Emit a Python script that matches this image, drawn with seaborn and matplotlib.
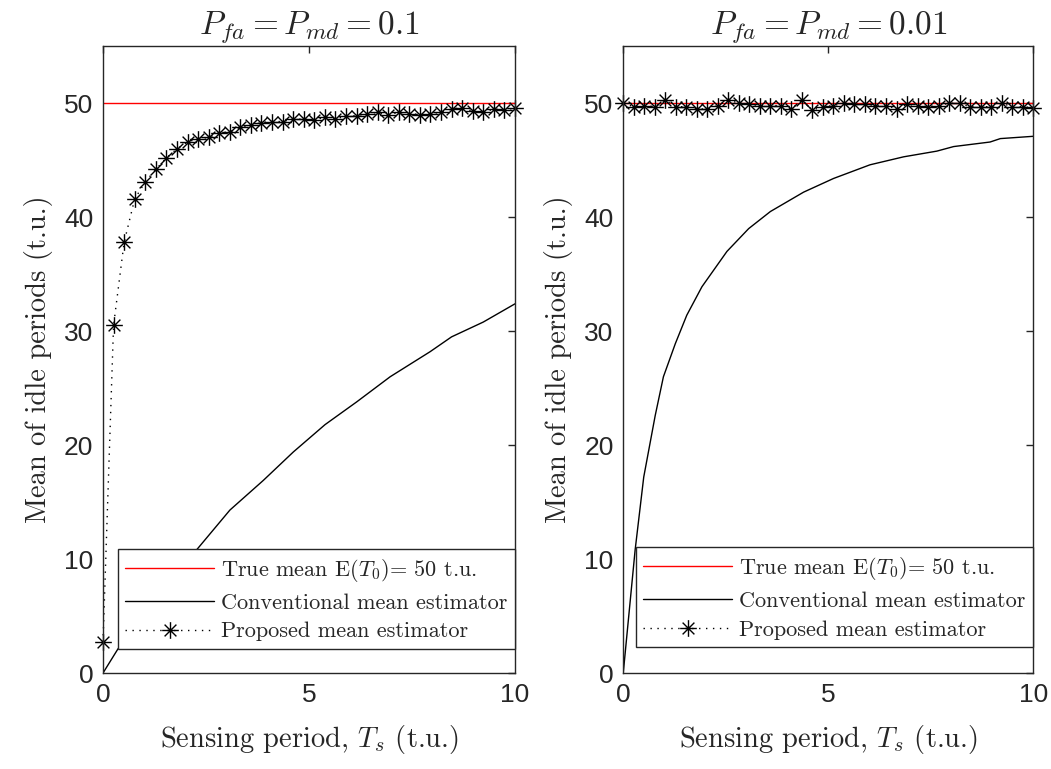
import numpy as np
import matplotlib
matplotlib.use('Agg')
import matplotlib.pyplot as plt
from matplotlib.path import Path
import seaborn as sns

# sensing periods where the proposed estimator was evaluated
ts = np.linspace(0, 10, 40)
true_mean = 50

# proposed mean estimator
prop_01 = [2.7, 30.5, 37.8, 41.6, 43.1, 44.2, 45.2, 46.0, 46.6, 46.9,
           47.0, 47.4, 47.5, 47.9, 48.1, 48.3, 48.4, 48.4, 48.6, 48.6,
           48.5, 48.8, 48.6, 48.9, 48.9, 49.1, 49.2, 49.0, 49.2, 49.1,
           49.0, 49.1, 49.2, 49.5, 49.6, 49.3, 49.2, 49.5, 49.4, 49.6]
prop_001 = [50.0, 49.7, 49.8, 49.7, 50.3, 49.7, 49.7, 49.5, 49.5, 49.8,
            50.3, 50.0, 49.9, 49.8, 49.8, 49.8, 49.5, 50.3, 49.4, 49.7,
            49.8, 50.0, 49.9, 49.9, 49.8, 49.8, 49.5, 49.9, 49.8, 49.7,
            49.8, 50.0, 50.0, 49.7, 49.7, 49.7, 50.0, 49.7, 49.7, 49.6]

# conventional mean estimator
conv_01_x = [0, 0.36, 2.27, 3.08, 3.89, 4.62, 5.39, 6.16, 6.97, 7.94, 8.46, 9.23, 10.0]
conv_01_y = [0, 2.1, 10.8, 14.3, 16.9, 19.4, 21.8, 23.8, 26.0, 28.2, 29.5, 30.8, 32.4]
conv_001_x = [0, 0.29, 0.50, 0.78, 0.98, 1.27, 1.55, 1.92, 2.53, 3.06, 3.59, 4.40,
              5.13, 6.02, 6.84, 7.65, 8.06, 8.95, 9.20, 10.0]
conv_001_y = [0, 10.8, 17.2, 22.6, 26.0, 28.9, 31.4, 33.9, 37.0, 39.0, 40.5, 42.2,
              43.4, 44.6, 45.3, 45.8, 46.2, 46.6, 46.9, 47.1]

titles = [r'$P_{fa} = P_{md} = 0.1$', r'$P_{fa} = P_{md} = 0.01$']
leg_labels = [r'True mean E$(T_0)$= 50 t.u.', 'Conventional mean estimator',
              'Proposed mean estimator']
xticks = [0, 5, 10]
yticks = [0, 10, 20, 30, 40, 50]

sns.set_style('white')
plt.rcParams['font.family'] = ['Liberation Sans', 'DejaVu Sans']
plt.rcParams['mathtext.fontset'] = 'cm'
plt.rcParams['axes.linewidth'] = 1.0

# matlab style asterisk marker (+ and x together)
d = np.sqrt(0.5)
star = Path([(-1, 0), (1, 0), (0, -1), (0, 1), (-d, -d), (d, d), (-d, d), (d, -d)],
            [Path.MOVETO, Path.LINETO] * 4)

fig = plt.figure(figsize=(10.51, 7.69), dpi=100)
positions = [[0.098, 0.1248, 0.392, 0.815], [0.593, 0.1248, 0.390, 0.815]]
panels = [(prop_01, conv_01_x, conv_01_y), (prop_001, conv_001_x, conv_001_y)]
leg_y = [0.038, 0.041]

for i, (prop, cx, cy) in enumerate(panels):
    ax = fig.add_axes(positions[i])
    sns.lineplot(x=[0, 10], y=[true_mean, true_mean], ax=ax, color='red', lw=1.0,
                 label=leg_labels[0], legend=False)
    sns.lineplot(x=cx, y=cy, ax=ax, color='black', lw=1.0,
                 label=leg_labels[1], legend=False)
    sns.lineplot(x=ts, y=prop, ax=ax, color='black', lw=1.0, linestyle=(0, (1, 4)),
                 marker=star, markersize=12, markerfacecolor='none',
                 markeredgecolor='black', markeredgewidth=1.0, clip_on=False,
                 label=leg_labels[2], legend=False)

    ax.set_xlim(0, 10)
    ax.set_ylim(0, 55)
    ax.set_xticks(xticks)
    ax.set_yticks(yticks)
    ax.tick_params(direction='in', length=5, width=1.0, labelsize=19, colors='0.15',
                   top=True, right=True, pad=7)
    for sp in ax.spines.values():
        sp.set_visible(True)
        sp.set_color('0.15')
    ax.set_title(titles[i], fontsize=24, pad=9)
    ax.set_xlabel(r'Sensing period, $T_s$ (t.u.)', fontsize=20.5, family='cmr10', labelpad=12)
    ax.set_ylabel('Mean of idle periods (t.u.)', fontsize=20.5, family='cmr10', labelpad=8)

    leg = ax.legend(handles=ax.get_lines(), labels=leg_labels, loc='lower right',
                    bbox_to_anchor=(1.0, leg_y[i]), borderaxespad=0,
                    prop={'family': 'cmr10', 'size': 16}, handlelength=4.0,
                    handletextpad=0.3, labelspacing=0.42, borderpad=0.35,
                    fancybox=False, framealpha=1, edgecolor='0.15')
    leg.get_frame().set_linewidth(1.0)

fig.savefig('out.png', dpi=100)
